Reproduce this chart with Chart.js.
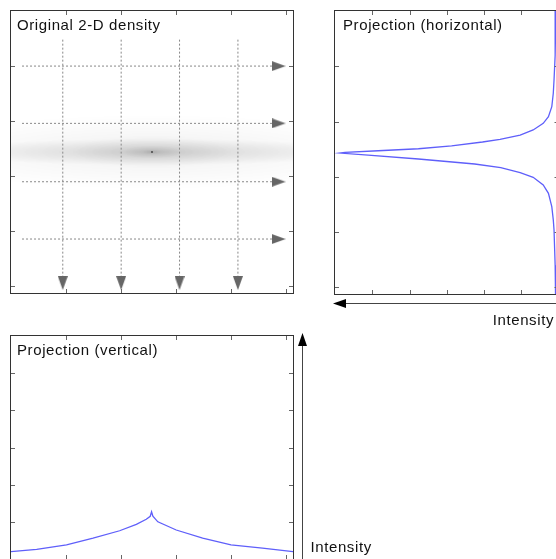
<!DOCTYPE html>
<html>
<head>
<meta charset="utf-8">
<script src="https://cdn.jsdelivr.net/npm/chart.js@4.4.1/dist/chart.umd.min.js"></script>
<style>
  html, body { margin: 0; padding: 0; background: #fff; overflow: hidden; }
  body { width: 556px; height: 559px; position: relative; }
  .panel { position: absolute; }
</style>
</head>
<body>
<div class="panel" style="left:0;top:0"><canvas id="density" width="300" height="300"></canvas></div>
<div class="panel" style="left:320px;top:0"><canvas id="projH" width="250" height="335"></canvas></div>
<div class="panel" style="left:0;top:320px"><canvas id="projV" width="390" height="239"></canvas></div>
<script>
// image grid is 256 x 256 pixels, ticks every 50
const imageSize = 256;
const imageTicks = [50, 100, 150, 200, 250];
const intensityTicks = [1, 2, 3, 4, 5];
const intensityMax = 6;

// 2-D density: stacked elliptical blobs round the centre (col, row)
const densityCenter = [128, 128];
const blobRadiusX = [230, 200, 75, 28, 8];
const blobRadiusY = [34, 12, 15, 6, 2.5];
const blobAlpha = [0.06, 0.13, 0.06, 0.07, 0.05];

// dashed scan lines over the density
const scanRows = [50, 102, 155, 207];
const scanCols = [47, 100, 153, 206];
const scanRowFrom = 10, scanRowArrow = 243;   // horizontal lines (cols)
const scanColFrom = 26, scanColArrow = 247;   // vertical lines (rows)

// projection along rows (horizontal)
const hRows = [0, 40, 62.4, 74.4, 86.6, 95.6, 101.6, 107.6, 112.2, 116.1, 118.5, 122.1, 124.6, 126.4, 127.8, 128.5,
               130.3, 133.9, 138.4, 141.6, 146.3, 150.4, 157.4, 164.9, 177, 189, 198, 230, 256];
const hIntensity = [0.07, 0.09, 0.12, 0.14, 0.18, 0.27, 0.41, 0.68, 1.03, 1.57, 2.04, 2.87, 3.76, 4.84, 5.73, 5.87,
                    5.11, 3.76, 2.25, 1.55, 1.03, 0.68, 0.41, 0.27, 0.18, 0.14, 0.12, 0.09, 0.08];

// projection along columns (vertical)
const vCols = [0, 23.3, 50.4, 74.5, 98.6, 113.8, 122.8, 126.4, 127.6, 128.8, 133.3, 150, 174, 199.7, 228.3, 256];
const vIntensity = [0.20, 0.26, 0.38, 0.56, 0.76, 0.93, 1.07, 1.15, 1.27, 1.15, 1.00, 0.78, 0.56, 0.38, 0.29, 0.20];

const FONT = '15px "Liberation Sans", Arial, sans-serif';
const curveColor = 'rgb(95,95,250)';

function arrowHead(len, wid, color) {
    const c = document.createElement('canvas');
    c.width = len; c.height = wid;
    const g = c.getContext('2d');
    g.fillStyle = color;
    g.beginPath();
    g.moveTo(0, 0); g.lineTo(len, wid / 2); g.lineTo(0, wid);
    g.closePath(); g.fill();
    return c;
}
const scanArrow = arrowHead(14, 10, '#666');

function setText(ctx) {
    ctx.font = FONT;
    ctx.fillStyle = '#111';
    if ('letterSpacing' in ctx) ctx.letterSpacing = '0.6px';
}

// frame with inward ticks and a title inside the plot
const framePlugin = {
    id: 'frame',
    afterDraw(chart, args, opts) {
        if (!opts || !opts.title) return;
        const { ctx, chartArea: a, scales: { x, y } } = chart;
        ctx.save();
        ctx.strokeStyle = '#666';
        ctx.lineWidth = 1;
        ctx.beginPath();
        (opts.xTicks || []).forEach(v => {
            const px = Math.round(x.getPixelForValue(v)) + 0.5;
            ctx.moveTo(px, a.top); ctx.lineTo(px, a.top + 4);
            ctx.moveTo(px, a.bottom); ctx.lineTo(px, a.bottom - 4);
        });
        (opts.yTicks || []).forEach(v => {
            const py = Math.round(y.getPixelForValue(v)) + 0.5;
            ctx.moveTo(a.left, py); ctx.lineTo(a.left + 4, py);
            ctx.moveTo(a.right, py); ctx.lineTo(a.right - 4, py);
        });
        ctx.stroke();
        ctx.strokeStyle = '#333';
        ctx.strokeRect(Math.round(a.left) - 0.5, Math.round(a.top) - 0.5,
                       Math.round(a.right - a.left) + 1, Math.round(a.bottom - a.top) + 1);
        setText(ctx);
        ctx.textBaseline = 'alphabetic';
        ctx.fillText(opts.title, a.left + opts.titleDx, a.top + 18.5);
        ctx.restore();
    }
};
Chart.register(framePlugin);

const densityPlugin = {
    id: 'densityImage',
    beforeDatasetsDraw(chart) {
        const { ctx, chartArea: a, scales: { x, y } } = chart;
        const cx = x.getPixelForValue(densityCenter[0]);
        const cy = y.getPixelForValue(densityCenter[1]);
        ctx.save();
        ctx.beginPath();
        ctx.rect(a.left, a.top, a.right - a.left, a.bottom - a.top);
        ctx.clip();
        blobAlpha.forEach((al, i) => {
            const rx = Math.abs(x.getPixelForValue(densityCenter[0] + blobRadiusX[i]) - cx);
            const ry = Math.abs(y.getPixelForValue(densityCenter[1] + blobRadiusY[i]) - cy);
            ctx.save();
            ctx.translate(cx, cy);
            ctx.scale(rx, ry);
            const g = ctx.createRadialGradient(0, 0, 0, 0, 0, 1);
            g.addColorStop(0, `rgba(0,0,0,${al})`);
            g.addColorStop(0.4, `rgba(0,0,0,${al * 0.6})`);
            g.addColorStop(1, 'rgba(0,0,0,0)');
            ctx.fillStyle = g;
            ctx.beginPath();
            ctx.arc(0, 0, 1, 0, Math.PI * 2);
            ctx.fill();
            ctx.restore();
        });
        ctx.restore();
    }
};

const scanSets = [];
scanRows.forEach(r => scanSets.push({
    data: [{ x: scanRowFrom, y: r }, { x: scanRowArrow, y: r }],
    borderColor: '#888', borderWidth: 1, borderDash: [2, 2],
    pointRadius: [0, 6], pointStyle: scanArrow, pointRotation: 0
}));
scanCols.forEach(c => scanSets.push({
    data: [{ x: c, y: scanColFrom }, { x: c, y: scanColArrow }],
    borderColor: '#888', borderWidth: 1, borderDash: [2, 2],
    pointRadius: [0, 6], pointStyle: scanArrow, pointRotation: 90
}));
scanSets.push({
    data: [{ x: densityCenter[0], y: densityCenter[1] }],
    showLine: false, pointStyle: 'rect', pointRadius: 1.2,
    backgroundColor: '#333', borderWidth: 0
});

const common = {
    responsive: false,
    animation: false,
    events: [],
    plugins: { legend: { display: false }, tooltip: { enabled: false } }
};

new Chart(document.getElementById('density'), {
    type: 'scatter',
    data: { datasets: scanSets.map(d => ({ showLine: true, ...d })) },
    options: {
        ...common,
        layout: { padding: { left: 11, top: 11, right: 7, bottom: 6 } },
        scales: {
            x: { display: false, min: 0, max: imageSize },
            y: { display: false, min: 0, max: imageSize, reverse: true }
        },
        plugins: {
            ...common.plugins,
            frame: { title: 'Original 2-D density', titleDx: 6, xTicks: imageTicks, yTicks: imageTicks }
        }
    },
    plugins: [densityPlugin]
});

const hArrowPlugin = {
    id: 'hArrow',
    afterDraw(chart) {
        const { ctx, chartArea: a } = chart;
        const yy = a.bottom + 9.5, tip = a.left - 2;
        ctx.save();
        ctx.strokeStyle = '#444';
        ctx.lineWidth = 1;
        ctx.beginPath(); ctx.moveTo(tip + 10, yy); ctx.lineTo(chart.width, yy); ctx.stroke();
        ctx.fillStyle = '#000';
        ctx.beginPath(); ctx.moveTo(tip, yy); ctx.lineTo(tip + 13, yy - 4.5); ctx.lineTo(tip + 13, yy + 4.5);
        ctx.closePath(); ctx.fill();
        setText(ctx);
        ctx.textAlign = 'right';
        ctx.fillText('Intensity', 234, 325);
        ctx.restore();
    }
};

new Chart(document.getElementById('projH'), {
    type: 'scatter',
    data: {
        datasets: [{
            data: hRows.map((r, i) => ({ x: hIntensity[i], y: r })),
            showLine: true, borderColor: curveColor, borderWidth: 1.3, pointRadius: 0, tension: 0
        }]
    },
    options: {
        ...common,
        layout: { padding: { left: 15, top: 11, right: 11.5, bottom: 41 } },
        scales: {
            x: { display: false, min: 0, max: intensityMax, reverse: true },
            y: { display: false, min: 0, max: imageSize, reverse: true }
        },
        plugins: {
            ...common.plugins,
            frame: { title: 'Projection (horizontal)', titleDx: 8, xTicks: intensityTicks, yTicks: imageTicks }
        }
    },
    plugins: [hArrowPlugin]
});

const vArrowPlugin = {
    id: 'vArrow',
    afterDraw(chart) {
        const { ctx, chartArea: a } = chart;
        const xx = a.right + 9.5, tip = a.top - 3;
        ctx.save();
        ctx.strokeStyle = '#444';
        ctx.lineWidth = 1;
        ctx.beginPath(); ctx.moveTo(xx, tip + 10); ctx.lineTo(xx, chart.height); ctx.stroke();
        ctx.fillStyle = '#000';
        ctx.beginPath(); ctx.moveTo(xx, tip); ctx.lineTo(xx - 4.5, tip + 13); ctx.lineTo(xx + 4.5, tip + 13);
        ctx.closePath(); ctx.fill();
        setText(ctx);
        ctx.fillText('Intensity', 310.5, 232);
        ctx.restore();
    }
};

new Chart(document.getElementById('projV'), {
    type: 'scatter',
    data: {
        datasets: [{
            data: vCols.map((c, i) => ({ x: c, y: vIntensity[i] })),
            showLine: true, borderColor: curveColor, borderWidth: 1.3, pointRadius: 0, tension: 0
        }]
    },
    options: {
        ...common,
        layout: { padding: { left: 11, top: 16, right: 97, bottom: 0 } },
        scales: {
            x: { display: false, min: 0, max: imageSize },
            y: { display: false, min: 0, max: intensityMax }
        },
        plugins: {
            ...common.plugins,
            frame: { title: 'Projection (vertical)', titleDx: 6, xTicks: imageTicks, yTicks: intensityTicks }
        }
    },
    plugins: [vArrowPlugin]
});
</script>
</body>
</html>
